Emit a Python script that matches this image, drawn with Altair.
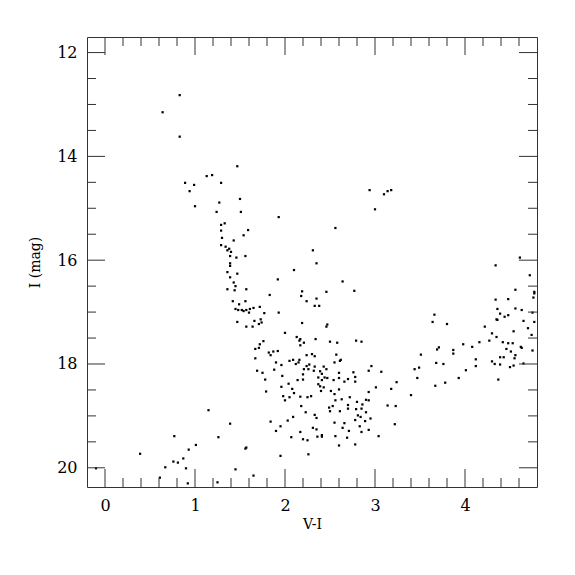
import altair as alt
import pandas as pd

# ---- data (V-I colour, I magnitude) ----
vi = [
    0.83, 0.64, 0.83, 1.47, 1.13, 1.19, 0.89, 0.99, 1.29, 0.94, 1.00, 1.50, 1.27, 1.24, 1.51, 1.93,
    1.29, 1.33, 1.29, 1.59, 1.54, 1.30, 1.43, 1.29, 1.34, 1.38, 1.36, 1.40, 1.39, 1.46, 1.56, 1.39,
    1.39, 1.36, 1.47, 1.39, 1.92, 1.43, 1.45, 1.36, 1.44, 1.57, 2.10, 1.83, 1.42, 1.49, 1.56, 1.45,
    1.48, 1.52, 1.54, 1.57, 1.61, 1.60, 1.65, 1.72, 1.77, 1.93, 1.47, 1.66, 1.73, 1.74, 1.71, 1.57,
    1.64, 2.19, 2.18, 2.24, 2.35, 2.33, 2.38, 2.46, 2.19, 2.47, 2.46, 2.00, 2.13, 2.17, 2.16, 2.21,
    2.17, 2.34, 1.76, 1.72, 1.67, 1.71, 1.82, 1.84, 1.87, 1.92, 1.67, 1.90, 1.96, 2.05, 2.09, 2.15,
    2.16, 2.12, 2.24, 2.30, 2.33, 2.27, 2.24, 2.21, 2.26, 2.33, 2.32, 2.43, 2.46, 2.39, 2.41, 2.37,
    2.41, 2.44, 2.47, 2.37, 2.39, 1.69, 1.75, 1.88, 1.97, 1.78, 2.04, 1.96, 2.08, 2.14, 2.20, 2.20,
    2.10, 1.79, 1.98, 2.00, 2.05, 2.17, 2.25, 2.29, 2.40, 2.51, 2.60, 2.55, 2.63, 2.56, 2.70, 2.70,
    2.18, 2.23, 2.09, 2.03, 1.84, 1.95, 1.90, 2.33, 2.35, 2.53, 2.50, 2.49, 2.61, 2.55, 2.66, 2.64,
    2.71, 2.31, 2.35, 2.17, 2.07, 2.20, 2.25, 2.36, 2.41, 2.41, 2.56, 2.69, 2.60, 2.26, 1.95, 1.57,
    1.56, 1.39, 1.45, 1.65, 2.43, 2.54,
    2.50, 2.58, 2.79, 2.85, 2.57, 2.55, 2.61, 2.62, 2.96, 2.93, 3.07, 2.76, 2.60, 2.78, 2.78, 2.60,
    2.70, 2.66, 3.24, 3.18, 3.01, 2.93, 2.72, 2.90, 2.93, 2.80, 2.86, 2.85, 2.79, 2.90, 3.14, 3.23,
    2.81, 2.84, 2.95, 2.89, 2.78, 2.83, 2.93, 2.85, 3.22, 3.04, 2.78, 3.40, 3.44, 3.49, 3.47, 3.51,
    3.68, 3.67, 3.69, 3.71,
    4.61, 4.34, 4.72, 4.77, 4.77, 4.76, 4.56, 4.34, 4.48, 4.36, 4.39, 4.56, 4.63, 4.75, 4.44, 4.48,
    4.35, 4.36, 4.65, 4.77, 4.22, 4.70, 4.54, 4.30, 4.35, 4.74, 4.27, 4.16, 4.42, 4.48, 4.53, 4.62,
    4.63, 4.46, 4.75, 4.51, 4.56, 4.55, 4.39, 4.43, 4.30, 4.33, 4.39, 4.50, 4.54, 4.65, 4.37, 3.98,
    4.08, 3.87, 3.87, 4.12, 4.12, 3.76, 4.01, 3.93, 3.78, 3.66, 3.64, 3.80,
    2.31, 2.35, 2.56, 2.94, 3.10, 3.14, 3.18, 3.00, 2.64, 2.77,
    1.15, 0.77, 1.26, 0.39, 1.01, 0.93, 0.87, 0.76, 0.81, 0.67, 0.90, -0.10, 0.61, 1.25, 0.92,
]
imag = [
    12.82, 13.15, 13.62, 14.19, 14.38, 14.36, 14.51, 14.55, 14.51, 14.67, 14.96, 14.82, 14.89, 15.07, 15.07, 15.17,
    15.32, 15.29, 15.43, 15.42, 15.52, 15.57, 15.62, 15.71, 15.74, 15.78, 15.81, 15.84, 15.92, 15.95, 15.92, 16.06,
    16.11, 16.23, 16.26, 16.33, 16.37, 16.43, 16.50, 16.56, 16.58, 16.56, 16.19, 16.67, 16.79, 16.85, 16.79, 16.94,
    16.96, 16.96, 16.98, 16.96, 16.94, 17.01, 16.92, 16.90, 17.02, 17.01, 17.19, 17.17, 17.14, 17.20, 17.23, 17.28,
    17.28, 16.60, 16.69, 16.79, 16.74, 16.88, 16.88, 16.61, 17.21, 17.24, 17.28, 17.40, 17.48, 17.52, 17.55, 17.59,
    17.64, 17.52, 17.56, 17.62, 17.71, 17.69, 17.78, 17.83, 17.76, 17.75, 17.89, 17.97, 18.02, 17.94, 17.92, 17.97,
    17.92, 18.00, 17.83, 17.81, 17.85, 18.01, 18.04, 18.10, 18.10, 18.05, 18.13, 18.05, 18.10, 18.14, 18.19, 18.26,
    18.31, 18.26, 18.27, 18.39, 18.43, 18.13, 18.17, 18.11, 18.23, 18.30, 18.38, 18.44, 18.48, 18.31, 18.30, 18.20,
    18.56, 18.53, 18.62, 18.70, 18.64, 18.63, 18.64, 18.62, 18.52, 18.52, 18.49, 18.58, 18.68, 18.70, 18.79, 18.86,
    18.81, 18.93, 19.02, 19.09, 19.11, 19.20, 19.29, 18.98, 19.04, 18.81, 18.91, 18.84, 18.91, 19.13, 19.14, 19.23,
    19.29, 19.23, 19.26, 19.31, 19.41, 19.45, 19.47, 19.40, 19.37, 19.40, 19.39, 19.42, 19.57, 19.74, 19.77, 19.61,
    19.63, 19.15, 20.03, 20.15, 18.45, 18.31,
    17.57, 17.59, 17.55, 17.57, 17.82, 17.97, 17.94, 17.92, 18.04, 18.13, 18.15, 18.16, 18.17, 18.25, 18.34, 18.27,
    18.29, 18.34, 18.35, 18.48, 18.45, 18.54, 18.64, 18.69, 18.70, 18.73, 18.78, 18.86, 18.87, 18.93, 18.80, 18.81,
    18.99, 19.02, 19.05, 19.10, 19.08, 19.20, 19.27, 19.31, 19.16, 19.39, 19.55, 18.60, 18.10, 18.07, 18.27, 17.82,
    17.98, 18.42, 17.72, 17.68,
    15.95, 16.10, 16.29, 16.61, 16.64, 16.72, 16.57, 16.76, 16.75, 16.94, 17.03, 16.93, 16.96, 17.01, 17.09, 17.06,
    17.14, 17.15, 17.17, 17.19, 17.28, 17.31, 17.37, 17.41, 17.48, 17.44, 17.55, 17.58, 17.58, 17.60, 17.60, 17.67,
    17.69, 17.71, 17.74, 17.76, 17.83, 17.89, 17.87, 17.87, 17.95, 18.00, 18.01, 18.06, 18.03, 17.99, 18.30, 17.62,
    17.67, 17.73, 17.80, 17.91, 18.04, 18.00, 18.12, 18.27, 18.36, 17.05, 17.19, 17.23,
    15.81, 16.06, 15.38, 14.65, 14.73, 14.67, 14.65, 15.02, 16.41, 16.59,
    18.89, 19.39, 19.41, 19.73, 19.56, 19.65, 19.82, 19.88, 19.90, 19.99, 20.01, 20.01, 20.19, 20.28, 20.30,
]

x_major = [0, 1, 2, 3, 4]
x_minor = [0.2, 0.4, 0.6, 0.8, 1.2, 1.4, 1.6, 1.8, 2.2, 2.4, 2.6, 2.8,
           3.2, 3.4, 3.6, 3.8, 4.2, 4.4, 4.6]
y_major = [12, 14, 16, 18, 20]
y_minor = [12.5, 13, 13.5, 14.5, 15, 15.5, 16.5, 17, 17.5, 18.5, 19, 19.5]

X_DOM = [-0.2, 4.8]
Y_DOM = [11.7, 20.37]
W = 450
H = 450
FRAME = "#333333"
MAJOR_LEN = 18
MINOR_LEN = 9

xs = alt.Scale(domain=X_DOM, nice=False, zero=False)
ys = alt.Scale(domain=Y_DOM, nice=False, zero=False, reverse=True)

x_axis = alt.Axis(title="V-I", values=x_major, format="d", ticks=False,
                  domain=False, grid=False, labelPadding=10,
                  labelFontSize=16, titleFontSize=14, titlePadding=4,
                  labelColor="black", titleColor="black",
                  titleFontWeight="normal")
y_axis = alt.Axis(title="I (mag)", values=y_major, format="d", ticks=False,
                  domain=False, grid=False, labelPadding=10,
                  labelFontSize=16, titleFontSize=14, titlePadding=14,
                  labelColor="black", titleColor="black",
                  titleFontWeight="normal")

stars = pd.DataFrame({"vi": vi, "imag": imag})

points = alt.Chart(stars).mark_square(size=5, color="black", opacity=1).encode(
    x=alt.X("vi:Q", scale=xs, axis=x_axis),
    y=alt.Y("imag:Q", scale=ys, axis=y_axis),
)


def xticks(values, length):
    df = pd.DataFrame({"vi": values})
    base = alt.Chart(df).mark_rule(color=FRAME, strokeWidth=1)
    enc_x = alt.X("vi:Q", scale=xs, axis=x_axis)
    bottom = base.encode(x=enc_x, y=alt.value(H), y2=alt.value(H - length))
    top = base.encode(x=enc_x, y=alt.value(0), y2=alt.value(length))
    return [bottom, top]


def yticks(values, length):
    df = pd.DataFrame({"imag": values})
    base = alt.Chart(df).mark_rule(color=FRAME, strokeWidth=1)
    enc_y = alt.Y("imag:Q", scale=ys, axis=y_axis)
    left = base.encode(y=enc_y, x=alt.value(0), x2=alt.value(length))
    right = base.encode(y=enc_y, x=alt.value(W), x2=alt.value(W - length))
    return [left, right]


layers = [points]
layers += xticks(x_major, MAJOR_LEN)
layers += xticks(x_minor, MINOR_LEN)
layers += yticks(y_major, MAJOR_LEN)
layers += yticks(y_minor, MINOR_LEN)

chart = alt.layer(*layers).properties(
    width=W,
    height=H,
    autosize=alt.AutoSizeParams(type="none"),
    padding={"left": 79, "top": 29, "right": 30, "bottom": 70},
).configure(
    font="DejaVu Serif",
).configure_view(
    stroke=FRAME,
    strokeWidth=1,
).configure_axis(
    labelFont="DejaVu Serif",
    titleFont="DejaVu Serif",
)

chart.save("out.html", embed_options={"renderer": "svg", "actions": False})
